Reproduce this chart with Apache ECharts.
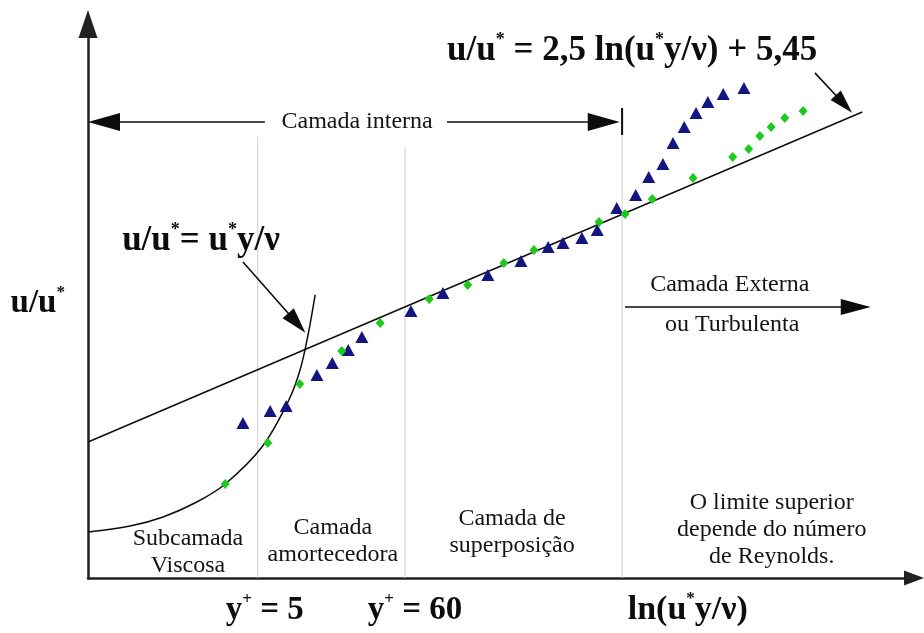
<!DOCTYPE html>
<html>
<head>
<meta charset="utf-8">
<script src="https://cdn.jsdelivr.net/npm/echarts@6/dist/echarts.min.js"></script>
<style>
html,body{margin:0;padding:0;background:#fff;}
#chart{width:924px;height:633px;}
</style>
</head>
<body>
<div id="chart"></div>
<script>
// ---- data (x = ln(u*y/ν), y = u/u*) ----
const triX = [1.37,1.83,2.10,2.62,2.88,3.15,3.38,4.21,4.75,5.51,6.07,6.53,6.78,7.10,7.36,7.69,8.01,8.23,8.47,8.64,8.83,9.03,9.23,9.49,9.84];
const triU = [4.14,5.32,5.82,8.89,10.07,11.36,12.64,15.22,17.00,18.78,20.16,21.55,21.95,22.44,23.23,25.41,26.69,28.48,29.76,31.84,33.42,34.81,35.90,36.69,37.28];
const diaX = [1.07,1.79,2.33,3.04,3.69,4.52,5.17,5.78,6.29,7.39,7.83,8.29,8.98,9.65,9.92,10.11,10.30,10.53,10.84];
const diaU = [-1.90,2.16,8.00,11.26,14.03,16.40,17.79,19.97,21.25,24.02,24.81,26.30,28.38,30.45,31.25,32.53,33.42,34.31,35.01];
const logLawX = [-1.25, 11.84];
const logLawU = [2.26, 34.91];
const viscX = [-1.25,-0.54,0.02,0.59,1.07,1.69,2.13,2.33,2.47,2.59];
const viscU = [-6.65,-6.06,-5.16,-3.68,-1.90,1.76,6.21,9.28,12.84,16.80];
const boundaryX = [1.62, 4.11, 7.78];
const boundaryTopU = [32.43, 31.44, 35.30];
const tickX = [7.78];
const tickU = [32.63, 35.30];
const arrowFromX = [1.74, 4.82, 7.83, 1.37, 11.04];
const arrowFromU = [33.92, 33.92, 15.61, 20.07, 38.77];
const arrowToX = [-0.98, 7.47, 11.73, 2.28, 11.53];
const arrowToU = [33.92, 33.92, 15.61, 14.03, 35.70];
const boldText = ['u/u{s|*} = 2,5 ln(u{s|*}y/ν) + 5,45', 'u/u{s|*}= u{s|*}y/ν', 'y{s|+} = 5', 'y{s|+} = 60', 'ln(u{s|*}y/ν)', 'u/u{s|*}'];
const boldX = [7.95, 0.66, 1.74, 4.28, 8.89, -2.10];
const boldU = [40.90, 22.10, -14.37, -14.37, -14.37, 16.01];
const plainText = ['Camada interna', 'Camada Externa', 'ou Turbulenta', 'Subcamada\nViscosa', 'Camada\namortecedora', 'Camada de\nsuperposição', 'O limite superior\ndepende do número\nde Reynolds.'];
const plainX = [3.30, 9.60, 9.64, 0.44, 2.89, 5.92, 10.31];
const plainU = [33.92, 17.79, 13.83, -8.63, -7.54, -6.65, -6.45];
const axisMinX = -1.25, axisMaxX = 12.715, axisMinU = -11.2, axisMaxU = 43.61;

// ---- chart ----
const zip = (a, b) => a.map((v, i) => [v, b[i]]);
const arrowSizes = [[18, 32], [18, 32], [16, 30], [15, 26], [14, 24]];
const boldSizes = [35, 35, 33, 33, 34, 33];
const serif = 'Liberation Serif';
const INK = '#0d0d0d';

const series = [];
boundaryX.forEach((bx, i) => {
  series.push({
    type: 'line', data: [[bx, axisMinU], [bx, boundaryTopU[i]]], symbol: 'none', z: 1,
    lineStyle: { color: '#cfcfcf', width: 1 }, silent: true
  });
});
series.push({
  type: 'line', data: zip([tickX[0], tickX[0]], tickU), symbol: 'none', z: 2,
  lineStyle: { color: INK, width: 2 }, silent: true
});
series.push({
  type: 'line', data: zip(logLawX, logLawU), symbol: 'none', z: 2,
  lineStyle: { color: INK, width: 1.5 }, silent: true,
  markLine: {
    silent: true, animation: false, symbol: ['none', 'triangle'],
    lineStyle: { color: INK, width: 1.6, type: 'solid' },
    label: { show: false },
    data: arrowFromX.map((fx, i) => [
      { coord: [fx, arrowFromU[i]], symbol: 'none' },
      { coord: [arrowToX[i], arrowToU[i]], symbol: 'triangle', symbolSize: arrowSizes[i] }
    ])
  }
});
series.push({
  type: 'line', data: zip(viscX, viscU), symbol: 'none', smooth: 0.35, z: 2,
  lineStyle: { color: INK, width: 1.5 }, silent: true
});
series.push({
  type: 'scatter', data: zip(triX, triU), symbol: 'triangle', symbolSize: [13, 12], z: 3,
  itemStyle: { color: '#15157f', opacity: 1 }, silent: true
});
series.push({
  type: 'scatter', data: zip(diaX, diaU), symbol: 'diamond', symbolSize: [9, 10], z: 3,
  itemStyle: { color: '#1fc81f', opacity: 1 }, silent: true
});
series.push({
  type: 'scatter', clip: false, z: 4, symbolSize: 1, itemStyle: { color: 'rgba(0,0,0,0)', opacity: 1 }, silent: true,
  data: boldX.map((x, i) => ({
    value: [x, boldU[i]], name: boldText[i],
    label: { rich: {
      b: { fontFamily: serif, fontWeight: 'bold', fontSize: boldSizes[i], color: INK, lineHeight: boldSizes[i] + 5 },
      s: { fontFamily: serif, fontWeight: 'bold', fontSize: Math.round(boldSizes[i] * 0.5), color: INK, lineHeight: 17, verticalAlign: 'top' }
    } }
  })),
  label: {
    show: true, position: 'inside', color: INK, textBorderWidth: 0,
    formatter: p => '{b|' + p.name.replace(/\{s\|([^}]*)\}/g, '}{s|$1}{b|') + '}'
  }
});
series.push({
  type: 'scatter', clip: false, z: 4, symbolSize: 1, itemStyle: { color: 'rgba(0,0,0,0)', opacity: 1 }, silent: true,
  data: plainX.map((x, i) => ({ value: [x, plainU[i]], name: plainText[i] })),
  label: {
    show: true, position: 'inside', formatter: p => p.name, textBorderWidth: 0,
    fontFamily: serif, fontSize: 24, lineHeight: 27, color: '#141414', align: 'center'
  }
});

const chart = echarts.init(document.getElementById('chart'), null, { renderer: 'canvas' });
chart.setOption({
  backgroundColor: '#ffffff',
  animation: false,
  grid: { left: 88, right: 10, top: 24, bottom: 55, containLabel: false },
  xAxis: {
    type: 'value', min: axisMinX, max: axisMaxX,
    axisLine: { show: true, onZero: false, symbol: ['none', 'triangle'], symbolSize: [15, 20], lineStyle: { color: '#222', width: 2.5 } },
    axisTick: { show: false }, axisLabel: { show: false }, splitLine: { show: false }
  },
  yAxis: {
    type: 'value', min: axisMinU, max: axisMaxU,
    axisLine: { show: true, onZero: false, symbol: ['none', 'triangle'], symbolSize: [19, 28], lineStyle: { color: '#222', width: 2.5 } },
    axisTick: { show: false }, axisLabel: { show: false }, splitLine: { show: false }
  },
  series: series
});
</script>
</body>
</html>
